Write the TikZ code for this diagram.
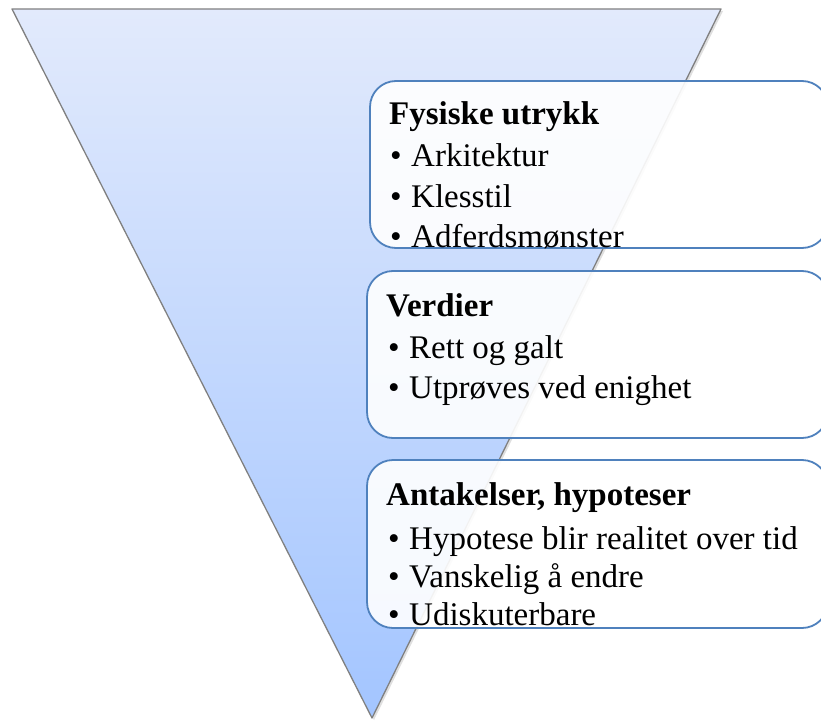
\documentclass[tikz,border=0pt]{standalone}
\usepackage{fontspec}
\setmainfont{Liberation Serif}
\usetikzlibrary{shadows}
\definecolor{edgegray}{RGB}{128,128,128}
\definecolor{tritop}{RGB}{226,234,252}
\definecolor{tribottom}{RGB}{163,197,255}
\definecolor{boxblue}{RGB}{79,129,189}
\tikzset{
  tri/.style={draw=edgegray, line width=1.3pt, line join=round,
    top color=tritop, bottom color=tribottom,
    drop shadow={shadow xshift=2pt, shadow yshift=-2pt, opacity=0.25}},
  infobox/.style={draw=boxblue, line width=1.8pt, fill=white, fill opacity=0.9,
    rounded corners=26pt},
  head/.style={anchor=base west, inner sep=0pt, font=\fontsize{33}{40}\selectfont\bfseries},
  item/.style={anchor=base west, inner sep=0pt, font=\fontsize{33}{40}\selectfont},
  dot/.style={anchor=base west, inner sep=0pt, font=\fontsize{33}{40}\selectfont}
}
\newcommand{\bulletitem}[3]{%
  \node[dot] at (#1,#2) {\textbullet};
  \node[item] at (#1+21,#2) {#3};}
\begin{document}
\begin{tikzpicture}[x=1pt,y=1pt]
\useasboundingbox (0,0) rectangle (821,-722);
% inverted triangle
\path[tri] (12,-9) coordinate (tl) -- (721,-9) coordinate (tr) -- (372,-718) coordinate (apex) -- cycle;
% three text boxes
\draw[infobox] (370,-81) rectangle (828,-248);
\draw[infobox] (367,-271) rectangle (828,-438);
\draw[infobox] (367,-460) rectangle (828,-628);
% box 1
\node[head] (h1) at (389,-125) {Fysiske utrykk};
\bulletitem{390}{-167}{Arkitektur}
\bulletitem{390}{-207}{Klesstil}
\bulletitem{390}{-247}{Adferdsmønster}
% box 2
\node[head] (h2) at (386,-316) {Verdier};
\bulletitem{388}{-358}{Rett og galt}
\bulletitem{388}{-398}{Utprøves ved enighet}
% box 3
\node[head] (h3) at (386,-505) {Antakelser, hypoteser};
\bulletitem{388}{-549}{Hypotese blir realitet over tid}
\bulletitem{388}{-587}{Vanskelig å endre}
\bulletitem{388}{-625}{Udiskuterbare}
\end{tikzpicture}
\end{document}
